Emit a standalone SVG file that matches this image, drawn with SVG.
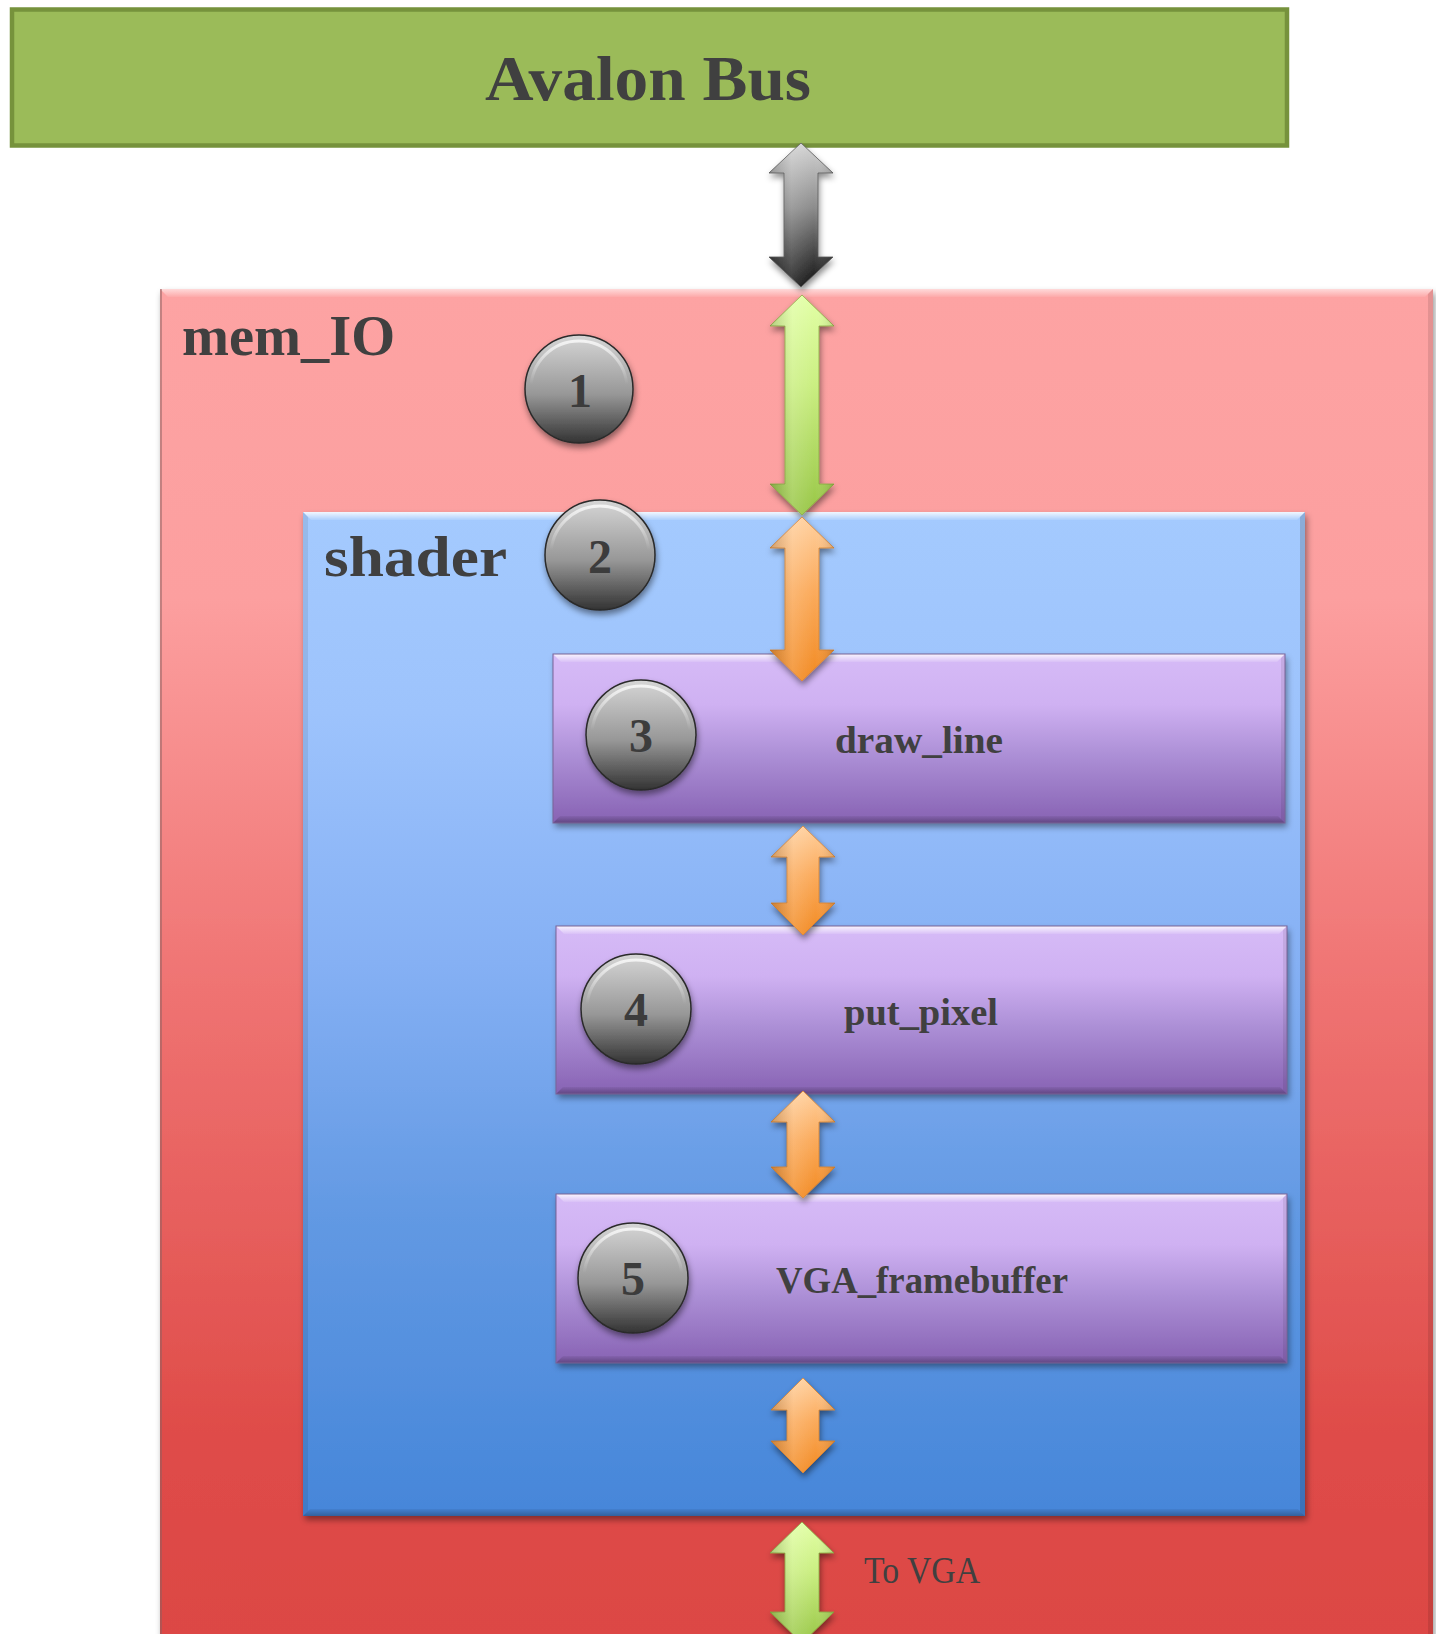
<svg xmlns="http://www.w3.org/2000/svg" width="1436" height="1634" viewBox="0 0 1436 1634">
<style>
.lbl{font-family:"Liberation Serif","DejaVu Serif",serif;font-weight:bold;fill:#404040}
.num{font-family:"Liberation Serif","DejaVu Serif",serif;font-weight:bold;fill:#3c3c3c;font-size:48px;text-anchor:middle}
.reg{font-family:"Liberation Serif","DejaVu Serif",serif;fill:#404040}
</style>
<defs>
<linearGradient id="gRed" gradientUnits="userSpaceOnUse" x1="0" y1="289" x2="0" y2="1634">
<stop offset="0" stop-color="#fda3a3"/>
<stop offset="0.23" stop-color="#fc9f9f"/>
<stop offset="0.52" stop-color="#ef7372"/>
<stop offset="0.85" stop-color="#df4c49"/>
<stop offset="1" stop-color="#dc4744"/>
</linearGradient>
<linearGradient id="gBlue" gradientUnits="userSpaceOnUse" x1="0" y1="512" x2="0" y2="1516">
<stop offset="0" stop-color="#a4cafe"/>
<stop offset="0.2" stop-color="#9dc3fc"/>
<stop offset="0.45" stop-color="#85b0f4"/>
<stop offset="0.7" stop-color="#6299e3"/>
<stop offset="1" stop-color="#4686d9"/>
</linearGradient>
<linearGradient id="gPurp" x1="0" y1="0" x2="0" y2="1">
<stop offset="0" stop-color="#d6bbf7"/>
<stop offset="0.3" stop-color="#cfb1f2"/>
<stop offset="0.6" stop-color="#ac8fd6"/>
<stop offset="1" stop-color="#8762b3"/>
</linearGradient>
<linearGradient id="gSphere" x1="0" y1="0" x2="0" y2="1">
<stop offset="0" stop-color="#d6d6d6"/>
<stop offset="0.55" stop-color="#979797"/>
<stop offset="1" stop-color="#333333"/>
</linearGradient>
<linearGradient id="gRim" x1="0" y1="0" x2="0" y2="1">
<stop offset="0" stop-color="#ffffff" stop-opacity="0.75"/>
<stop offset="0.45" stop-color="#ffffff" stop-opacity="0"/>
</linearGradient>
<linearGradient id="gGray" x1="0" y1="0" x2="0" y2="1">
<stop offset="0" stop-color="#d4d4d4"/>
<stop offset="0.45" stop-color="#8c8c8c"/>
<stop offset="1" stop-color="#111111"/>
</linearGradient>
<linearGradient id="gGreen" x1="0" y1="0" x2="0" y2="1">
<stop offset="0" stop-color="#e2ffa6"/>
<stop offset="0.4" stop-color="#cbef82"/>
<stop offset="1" stop-color="#98c646"/>
</linearGradient>
<linearGradient id="gOrange" x1="0" y1="0" x2="0" y2="1">
<stop offset="0" stop-color="#ffd09e"/>
<stop offset="0.45" stop-color="#fbab5c"/>
<stop offset="1" stop-color="#f28a22"/>
</linearGradient>
<linearGradient id="gSide" x1="0" y1="0" x2="1" y2="0">
<stop offset="0" stop-color="#000" stop-opacity="0.18"/>
<stop offset="0.35" stop-color="#fff" stop-opacity="0.15"/>
<stop offset="0.7" stop-color="#fff" stop-opacity="0"/>
<stop offset="1" stop-color="#000" stop-opacity="0.15"/>
</linearGradient>
<linearGradient id="gTopBevel" x1="0" y1="0" x2="0" y2="1">
<stop offset="0" stop-color="#ffffff" stop-opacity="0.85"/>
<stop offset="1" stop-color="#ffffff" stop-opacity="0.1"/>
</linearGradient>
<linearGradient id="gBotBevel" x1="0" y1="0" x2="0" y2="1">
<stop offset="0" stop-color="#000000" stop-opacity="0.05"/>
<stop offset="1" stop-color="#000000" stop-opacity="0.28"/>
</linearGradient>
<filter id="shadow" x="-10%" y="-10%" width="120%" height="120%">
<feDropShadow dx="2" dy="4" stdDeviation="3" flood-color="#000" flood-opacity="0.4"/>
</filter>
<filter id="shadowS" x="-30%" y="-30%" width="160%" height="160%">
<feDropShadow dx="1" dy="4" stdDeviation="3" flood-color="#000" flood-opacity="0.45"/>
</filter>
</defs>

<rect width="1436" height="1634" fill="#ffffff"/>

<g id="avalon_bus">
<rect x="12" y="9.5" width="1275" height="136" fill="#9bbb59" stroke="#76923c" stroke-width="4.5"/>
<text class="lbl" x="485" y="100" font-size="64" textLength="326" lengthAdjust="spacingAndGlyphs">Avalon Bus</text>
</g>

<g id="mem_IO">
<rect x="160" y="289" width="1273" height="1400" fill="url(#gRed)" filter="url(#shadow)"/>
<polygon points="160,289 1433,289 1425,297 168,297" fill="url(#gTopBevel)" opacity="0.7"/>
<polygon points="1433,289 1433,1634 1428,1634 1428,294" fill="#000" opacity="0.1"/>
<rect x="160" y="289" width="2" height="1345" fill="#8a6060" opacity="0.5"/>
<text class="lbl" x="182" y="355" font-size="58" textLength="213" lengthAdjust="spacingAndGlyphs">mem_IO</text>
</g>

<g id="shader">
<rect x="303" y="512" width="1002" height="1004" fill="url(#gBlue)" filter="url(#shadow)"/>
<polygon points="303,512 1305,512 1297,520 311,520" fill="url(#gTopBevel)"/>
<polygon points="1305,512 1305,1516 1300,1511 1300,517" fill="#000" opacity="0.15"/>
<polygon points="303,1516 1305,1516 1298,1509 310,1509" fill="url(#gBotBevel)"/>
<polygon points="303,512 308,517 308,1511 303,1516" fill="#000" opacity="0.08"/>
<text class="lbl" x="324" y="576" font-size="58" textLength="183" lengthAdjust="spacingAndGlyphs">shader</text>
</g>

<g id="draw_line">
<rect x="553" y="654" width="732" height="169" fill="url(#gPurp)" filter="url(#shadow)"/>
<polygon points="553,654 1285,654 1277,662 561,662" fill="url(#gTopBevel)"/>
<polygon points="1285,654 1285,823 1281,819 1281,658" fill="#000" opacity="0.08"/>
<polygon points="553,823 1285,823 1278,816 560,816" fill="url(#gBotBevel)"/>
<rect x="553" y="654" width="732" height="169" fill="none" stroke="#7a6598" stroke-width="1"/>
<text class="lbl" x="835" y="753" font-size="37" textLength="168" lengthAdjust="spacingAndGlyphs">draw_line</text>
</g>

<g id="put_pixel">
<rect x="556" y="926" width="731" height="168" fill="url(#gPurp)" filter="url(#shadow)"/>
<polygon points="556,926 1287,926 1279,934 564,934" fill="url(#gTopBevel)"/>
<polygon points="1287,926 1287,1094 1283,1090 1283,930" fill="#000" opacity="0.08"/>
<polygon points="556,1094 1287,1094 1280,1087 563,1087" fill="url(#gBotBevel)"/>
<rect x="556" y="926" width="731" height="168" fill="none" stroke="#7a6598" stroke-width="1"/>
<text class="lbl" x="844" y="1025" font-size="37" textLength="154" lengthAdjust="spacingAndGlyphs">put_pixel</text>
</g>

<g id="VGA_framebuffer">
<rect x="556" y="1194" width="731" height="169" fill="url(#gPurp)" filter="url(#shadow)"/>
<polygon points="556,1194 1287,1194 1279,1202 564,1202" fill="url(#gTopBevel)"/>
<polygon points="1287,1194 1287,1363 1283,1359 1283,1198" fill="#000" opacity="0.08"/>
<polygon points="556,1363 1287,1363 1280,1356 563,1356" fill="url(#gBotBevel)"/>
<rect x="556" y="1194" width="731" height="169" fill="none" stroke="#7a6598" stroke-width="1"/>
<text class="lbl" x="776" y="1293" font-size="37" textLength="292" lengthAdjust="spacingAndGlyphs">VGA_framebuffer</text>
</g>

<g id="step1">
<circle cx="579" cy="389" r="54" fill="url(#gSphere)" stroke="#2a2a2a" stroke-width="1.5" filter="url(#shadowS)"/>
<circle cx="579" cy="389" r="48" fill="none" stroke="url(#gRim)" stroke-width="3"/>
<text class="num" x="580" y="407">1</text>
</g>
<g id="step2">
<circle cx="600" cy="555" r="55" fill="url(#gSphere)" stroke="#2a2a2a" stroke-width="1.5" filter="url(#shadowS)"/>
<circle cx="600" cy="555" r="49" fill="none" stroke="url(#gRim)" stroke-width="3"/>
<text class="num" x="600" y="573">2</text>
</g>
<g id="step3">
<circle cx="641" cy="735" r="55" fill="url(#gSphere)" stroke="#2a2a2a" stroke-width="1.5" filter="url(#shadowS)"/>
<circle cx="641" cy="735" r="49" fill="none" stroke="url(#gRim)" stroke-width="3"/>
<text class="num" x="641" y="752">3</text>
</g>
<g id="step4">
<circle cx="636" cy="1009" r="55" fill="url(#gSphere)" stroke="#2a2a2a" stroke-width="1.5" filter="url(#shadowS)"/>
<circle cx="636" cy="1009" r="49" fill="none" stroke="url(#gRim)" stroke-width="3"/>
<text class="num" x="636" y="1026">4</text>
</g>
<g id="step5">
<circle cx="633" cy="1278" r="55" fill="url(#gSphere)" stroke="#2a2a2a" stroke-width="1.5" filter="url(#shadowS)"/>
<circle cx="633" cy="1278" r="49" fill="none" stroke="url(#gRim)" stroke-width="3"/>
<text class="num" x="633" y="1295">5</text>
</g>

<g id="connectors">
<g filter="url(#shadowS)">
<polygon points="801,143 833,173 818,173 818,257 833,257 801,287 769,257 784,257 784,173 769,173" fill="url(#gGray)" stroke="#555" stroke-width="0.8"/>
<polygon points="801,143 833,173 818,173 818,257 833,257 801,287 769,257 784,257 784,173 769,173" fill="url(#gSide)"/>
</g>
<g filter="url(#shadowS)">
<polygon points="802,295 834,326 819,326 819,484 834,484 802,515 770,484 785,484 785,326 770,326" fill="url(#gGreen)" stroke="#86a83e" stroke-width="0.8"/>
<polygon points="802,295 834,326 819,326 819,484 834,484 802,515 770,484 785,484 785,326 770,326" fill="url(#gSide)"/>
</g>
<g filter="url(#shadowS)">
<polygon points="802,517 834,548 819,548 819,650 834,650 802,681 770,650 785,650 785,548 770,548" fill="url(#gOrange)" stroke="#d9802a" stroke-width="0.8"/>
<polygon points="802,517 834,548 819,548 819,650 834,650 802,681 770,650 785,650 785,548 770,548" fill="url(#gSide)"/>
</g>
<g filter="url(#shadowS)">
<polygon points="803,826 835,857 819,857 819,903 835,903 803,935 771,903 787,903 787,857 771,857" fill="url(#gOrange)" stroke="#d9802a" stroke-width="0.8"/>
<polygon points="803,826 835,857 819,857 819,903 835,903 803,935 771,903 787,903 787,857 771,857" fill="url(#gSide)"/>
</g>
<g filter="url(#shadowS)">
<polygon points="803,1091 835,1122 819,1122 819,1167 835,1167 803,1198 771,1167 787,1167 787,1122 771,1122" fill="url(#gOrange)" stroke="#d9802a" stroke-width="0.8"/>
<polygon points="803,1091 835,1122 819,1122 819,1167 835,1167 803,1198 771,1167 787,1167 787,1122 771,1122" fill="url(#gSide)"/>
</g>
<g filter="url(#shadowS)">
<polygon points="803,1378 835,1410 819,1410 819,1441 835,1441 803,1473 771,1441 787,1441 787,1410 771,1410" fill="url(#gOrange)" stroke="#d9802a" stroke-width="0.8"/>
<polygon points="803,1378 835,1410 819,1410 819,1441 835,1441 803,1473 771,1441 787,1441 787,1410 771,1410" fill="url(#gSide)"/>
</g>
<g filter="url(#shadowS)">
<polygon points="802,1522 834,1553 819,1553 819,1612 834,1612 802,1643 770,1612 785,1612 785,1553 770,1553" fill="url(#gGreen)" stroke="#86a83e" stroke-width="0.8"/>
<polygon points="802,1522 834,1553 819,1553 819,1612 834,1612 802,1643 770,1612 785,1612 785,1553 770,1553" fill="url(#gSide)"/>
</g>
<text class="reg" x="864" y="1583" font-size="38" textLength="116" lengthAdjust="spacingAndGlyphs">To VGA</text>
</g>
</svg>
